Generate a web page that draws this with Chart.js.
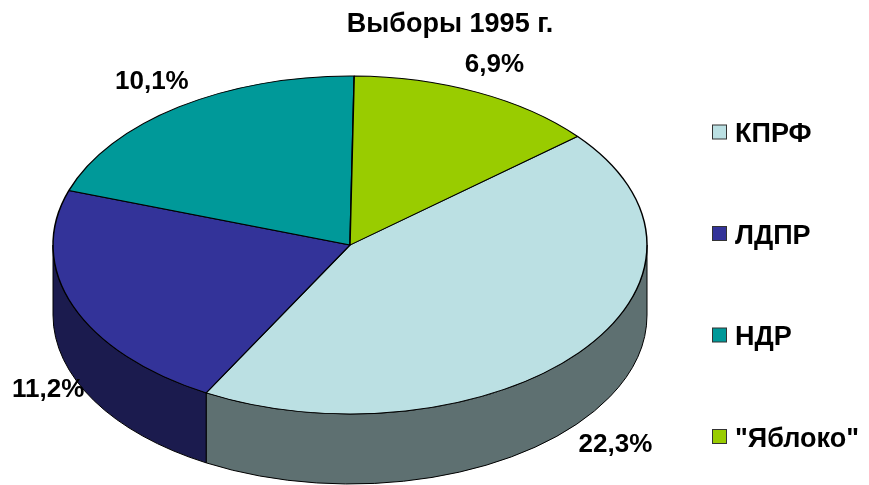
<!DOCTYPE html>
<html>
<head>
<meta charset="utf-8">
<script src="https://cdn.jsdelivr.net/npm/chart.js"></script>
<style>
  html, body { margin: 0; padding: 0; background: #fff; }
  canvas { display: block; }
</style>
</head>
<body>
<canvas id="chart" width="869" height="485"></canvas>
<script>
const chartTitle = 'Выборы 1995 г.';
const parties = ['КПРФ', 'ЛДПР', 'НДР', '"Яблоко"'];
const votes = [22.3, 11.2, 10.1, 6.9];
const topColors = ['#BBE0E3', '#333399', '#009999', '#99CC00'];
const sideColors = ['#5E7071', '#1B1B4E', '#004C4C', '#4C6600'];

// shape of the tilted pie on screen
const pie = { x: 350, y: 245, rx: 297, ry: 169, depth: 70 };
const FONT = 'bold 27px "Liberation Sans", Arial, sans-serif';
const LABEL_FONT = 'bold 26px "Liberation Sans", Arial, sans-serif';

const fmt = v => v.toFixed(1).replace('.', ',') + '%';

const pie3d = {
    id: 'pie3d',
    beforeDatasetsDraw(chart) {
        const ctx = chart.ctx;
        const arcs = chart.getDatasetMeta(0).data;
        const TWO_PI = Math.PI * 2;

        // side walls, only the front half is visible
        arcs.forEach((arc, i) => {
            let a = arc.startAngle % TWO_PI;
            if (a < 0) a += TWO_PI;
            const b = a + (arc.endAngle - arc.startAngle);
            [[0, Math.PI], [TWO_PI, TWO_PI + Math.PI]].forEach(([lo, hi]) => {
                const s = Math.max(a, lo), e = Math.min(b, hi);
                if (e <= s) return;
                ctx.beginPath();
                ctx.ellipse(pie.x, pie.y, pie.rx, pie.ry, 0, s, e);
                ctx.ellipse(pie.x, pie.y + pie.depth, pie.rx, pie.ry, 0, e, s, true);
                ctx.closePath();
                ctx.fillStyle = sideColors[i];
                ctx.fill();
                ctx.lineWidth = 1;
                ctx.strokeStyle = '#000';
                ctx.stroke();
            });
        });

        // squash the library's circle into the top ellipse
        const r = arcs[0].outerRadius;
        ctx.save();
        ctx.translate(pie.x, pie.y);
        ctx.scale(pie.rx / r, pie.ry / r);
        ctx.translate(-arcs[0].x, -arcs[0].y);
    },
    afterDatasetsDraw(chart) {
        const ctx = chart.ctx;
        ctx.restore();

        const arcs = chart.getDatasetMeta(0).data;
        ctx.save();
        ctx.fillStyle = '#000';
        ctx.textAlign = 'center';
        ctx.textBaseline = 'alphabetic';

        // percent labels outside the slices, kept inside the canvas
        ctx.font = LABEL_FONT;
        arcs.forEach((arc, i) => {
            const mid = (arc.startAngle + arc.endAngle) / 2;
            const c = Math.cos(mid), s = Math.sin(mid);
            const px = pie.x + pie.rx * c;
            const py = pie.y + pie.ry * s + (s > 0 ? pie.depth : 0);
            const txt = fmt(votes[i]);
            const w = ctx.measureText(txt).width;
            let lx = px + c * (w / 2 + 10);
            const ly = py + s * (9 + 24);
            lx = Math.max(12 + w / 2, Math.min(chart.width - 12 - w / 2, lx));
            ctx.fillText(txt, lx, ly + 9);
        });

        // title
        ctx.font = FONT;
        ctx.fillText(chartTitle, 450, 32);

        // legend
        ctx.textAlign = 'left';
        parties.forEach((name, i) => {
            const cy = 132.5 + i * 101.5;
            ctx.fillStyle = topColors[i];
            ctx.fillRect(712.5, cy - 7.5, 14, 14);
            ctx.strokeStyle = '#333';
            ctx.lineWidth = 1;
            ctx.strokeRect(712.5, cy - 7.5, 14, 14);
            ctx.fillStyle = '#000';
            ctx.fillText(name, 735, cy + 9.5);
        });
        ctx.restore();
    }
};

new Chart(document.getElementById('chart'), {
    type: 'pie',
    data: {
        labels: parties,
        datasets: [{
            data: votes,
            backgroundColor: topColors,
            borderColor: '#000',
            borderWidth: 1.2,
            clip: false
        }]
    },
    options: {
        responsive: false,
        animation: false,
        events: [],
        rotation: 50,
        layout: { padding: 4 },
        plugins: {
            legend: { display: false },
            title: { display: false },
            tooltip: { enabled: false }
        }
    },
    plugins: [pie3d]
});
</script>
</body>
</html>
